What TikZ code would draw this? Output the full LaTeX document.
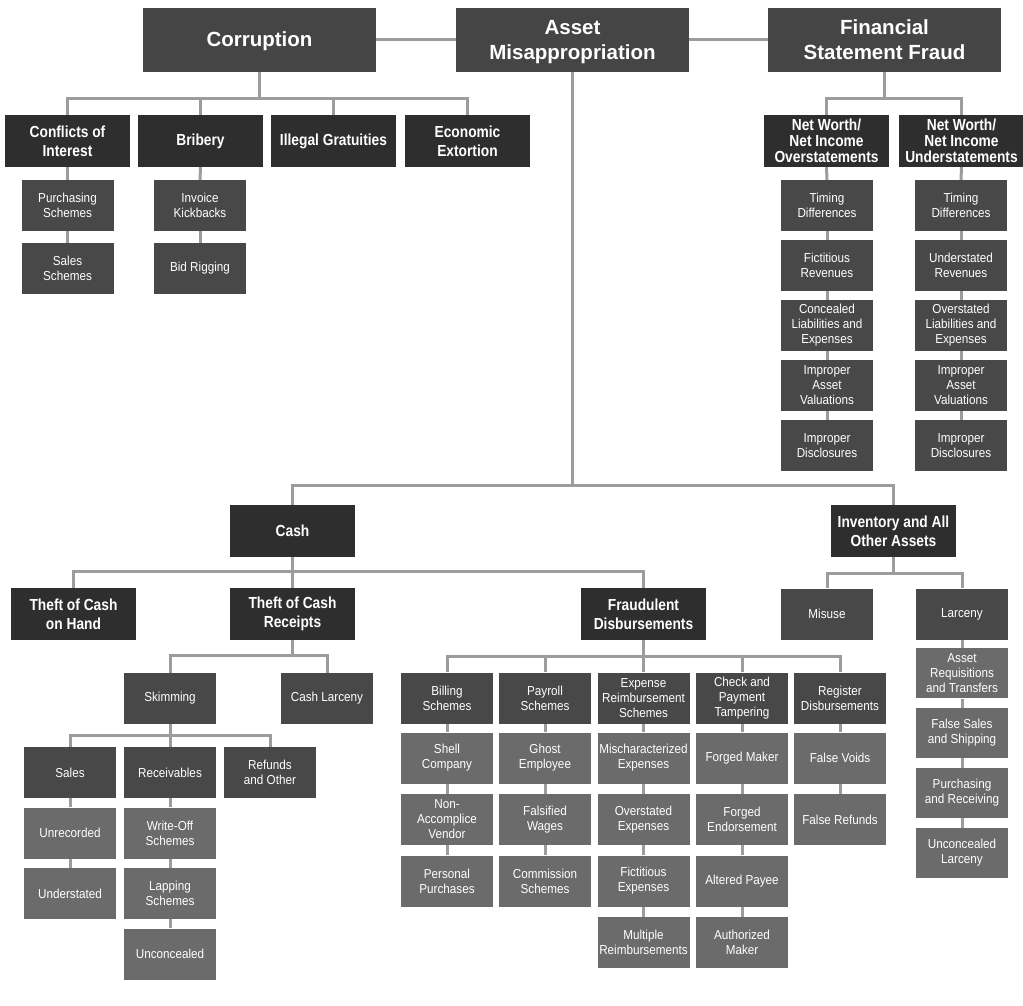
\documentclass[tikz,border=0pt]{standalone}
\usepackage{fontspec}
\setmainfont{Liberation Sans}
\newfontfamily\condfont[FakeStretch=0.86]{Liberation Sans}
\newfontfamily\leafcondfont[FakeStretch=0.9]{Liberation Sans}
\newcommand{\titlefont}{\fontsize{20.5}{25}\selectfont\bfseries}
\newcommand{\headfont}{\condfont\fontsize{16}{19}\selectfont\bfseries}
\newcommand{\headfonttight}{\condfont\fontsize{16}{16}\selectfont\bfseries}
\newcommand{\leaffont}{\leafcondfont\fontsize{13}{15}\selectfont}
\definecolor{topgray}{HTML}{454545}
\definecolor{headgray}{HTML}{2E2E2E}
\definecolor{midgray}{HTML}{484848}
\definecolor{leafgray}{HTML}{6B6B6B}
\definecolor{linegray}{HTML}{9C9C9C}
\tikzset{
  box/.style={rectangle, align=center, text=white, inner sep=0pt},
  topbox/.style={box, fill=topgray, minimum width=233, minimum height=64, font=\titlefont, text depth=0pt},
  headbox/.style={box, fill=headgray, minimum width=125, minimum height=52, font=\headfont},
  tightbox/.style={headbox, font=\headfonttight},
  midbox/.style={box, fill=midgray, minimum width=92, minimum height=51, font=\leaffont},
  leafbox/.style={box, fill=leafgray, minimum width=92, minimum height=51, font=\leaffont},
  link/.style={draw=linegray, line width=3pt}
}
\begin{document}
\begin{tikzpicture}[x=1pt,y=-1pt]
    \useasboundingbox (0,0) rectangle (1023,1005);

    % top level
    \node[topbox] (corr) at (259.5,39.5) {Corruption};
    \node[topbox] (asset) at (572.5,39.5) {Asset\\Misappropriation};
    \node[topbox] (fsf) at (884.5,39.5) {Financial\\Statement Fraud};
    \draw[link] (corr.east) -- (asset.west);
    \draw[link] (asset.east) -- (fsf.west);

    % corruption
    \node[headbox] (coi) at (67.5,141) {Conflicts of\\Interest};
    \node[headbox] (brib) at (200.5,141) {Bribery};
    \node[headbox] (grat) at (333.5,141) {Illegal Gratuities};
    \node[headbox] (extort) at (467.5,141) {Economic\\Extortion};
    \foreach \c in {coi,brib,grat,extort}
        \draw[link] (corr.south) -- ++(0,26.5) -| (\c.north);
    \node[midbox] (purch) at (67.5,205.5) {Purchasing\\Schemes};
    \node[midbox] (salesch) at (67.5,268.5) {Sales\\Schemes};
    \node[midbox] (invkick) at (200,205.5) {Invoice\\Kickbacks};
    \node[midbox] (bidrig) at (200,268.5) {Bid Rigging};
    \foreach \a/\b in {coi/purch,purch/salesch,brib/invkick,invkick/bidrig}
        \draw[link] (\a.south) -- (\b.north);

    % financial statement fraud
    \node[tightbox] (over) at (826.5,141) {Net Worth/\\Net Income\\Overstatements};
    \node[tightbox] (under) at (961.5,141) {Net Worth/\\Net Income\\Understatements};
    \foreach \c in {over,under}
        \draw[link] (fsf.south) -- ++(0,26.5) -| (\c.north);
    \foreach \t [count=\i] in {{Timing\\Differences},{Fictitious\\Revenues},{Concealed\\Liabilities and\\Expenses},{Improper\\Asset\\Valuations},{Improper\\Disclosures}}
        \node[midbox] (over\i) at (827,{145.5+60*\i}) {\t};
    \foreach \t [count=\i] in {{Timing\\Differences},{Understated\\Revenues},{Overstated\\Liabilities and\\Expenses},{Improper\\Asset\\Valuations},{Improper\\Disclosures}}
        \node[midbox] (under\i) at (961,{145.5+60*\i}) {\t};
    \foreach \a/\b in {over/over1,over1/over2,over2/over3,over3/over4,over4/over5,
                       under/under1,under1/under2,under2/under3,under3/under4,under4/under5}
        \draw[link] (\a.south) -- (\b.north);

    % asset misappropriation
    \node[headbox] (cash) at (292.5,531) {Cash};
    \node[headbox] (inv) at (893.5,531) {Inventory and All\\Other Assets};
    \foreach \c in {cash,inv}
        \draw[link] (asset.south) -- ++(0,414) -| (\c.north);

    % cash
    \node[headbox] (hand) at (73.5,614) {Theft of Cash\\on Hand};
    \node[headbox] (receipts) at (292.5,614) {Theft of Cash\\Receipts};
    \node[headbox] (fraud) at (643.5,614) {Fraudulent\\Disbursements};
    \foreach \c in {hand,receipts,fraud}
        \draw[link] (cash.south) -- ++(0,14) -| (\c.north);

    % theft of cash receipts
    \node[midbox] (skim) at (170,698.5) {Skimming};
    \node[midbox] (cashlarc) at (327,698.5) {Cash Larceny};
    \foreach \c in {skim,cashlarc}
        \draw[link] (receipts.south) -- ++(0,15) -| (\c.north);
    \node[midbox] (sales) at (70,772.5) {Sales};
    \node[midbox] (recv) at (170,772.5) {Receivables};
    \node[midbox] (refunds) at (270,772.5) {Refunds\\and Other};
    \foreach \c in {sales,recv,refunds}
        \draw[link] (skim.south) -- ++(0,11) -| (\c.north);
    \foreach \t [count=\i] in {Unrecorded,Understated}
        \node[leafbox] (sales\i) at (70,{772.5+60.5*\i}) {\t};
    \foreach \t [count=\i] in {{Write-Off\\Schemes},{Lapping\\Schemes},Unconcealed}
        \node[leafbox] (recv\i) at (170,{772.5+60.5*\i}) {\t};
    \foreach \a/\b in {sales/sales1,sales1/sales2,recv/recv1,recv1/recv2,recv2/recv3}
        \draw[link] (\a.south) -- (\b.north);

    % fraudulent disbursements
    \node[midbox] (billing) at (447,698) {Billing\\Schemes};
    \node[midbox] (payroll) at (545,698) {Payroll\\Schemes};
    \node[midbox] (expense) at (643.5,698) {Expense\\Reimbursement\\Schemes};
    \node[midbox] (check) at (742,698) {Check and\\Payment\\Tampering};
    \node[midbox] (register) at (840,698) {Register\\Disbursements};
    \foreach \c in {billing,payroll,expense,check,register}
        \draw[link] (fraud.south) -- ++(0,16) -| (\c.north);
    \foreach \t [count=\i] in {{Shell\\Company},{Non-\\Accomplice\\Vendor},{Personal\\Purchases}}
        \node[leafbox] (billing\i) at (447,{696.5+61.5*\i}) {\t};
    \foreach \t [count=\i] in {{Ghost\\Employee},{Falsified\\Wages},{Commission\\Schemes}}
        \node[leafbox] (payroll\i) at (545,{696.5+61.5*\i}) {\t};
    \foreach \t [count=\i] in {{Mischaracterized\\Expenses},{Overstated\\Expenses},{Fictitious\\Expenses},{Multiple\\Reimbursements}}
        \node[leafbox] (expense\i) at (643.5,{696.5+61.5*\i}) {\t};
    \foreach \t [count=\i] in {Forged Maker,{Forged\\Endorsement},Altered Payee,{Authorized\\Maker}}
        \node[leafbox] (check\i) at (742,{696.5+61.5*\i}) {\t};
    \foreach \t [count=\i] in {False Voids,False Refunds}
        \node[leafbox] (register\i) at (840,{696.5+61.5*\i}) {\t};
    \foreach \a/\b in {billing/billing1,billing1/billing2,billing2/billing3,
                       payroll/payroll1,payroll1/payroll2,payroll2/payroll3,
                       expense/expense1,expense1/expense2,expense2/expense3,expense3/expense4,
                       check/check1,check1/check2,check2/check3,check3/check4,
                       register/register1,register1/register2}
        \draw[link] (\a.south) -- (\b.north);

    % inventory
    \node[midbox] (misuse) at (827,614) {Misuse};
    \node[midbox] (larceny) at (962,614) {Larceny};
    \foreach \c in {misuse,larceny}
        \draw[link] (inv.south) -- ++(0,16) -| (\c.north);
    \foreach \t [count=\i] in {{Asset\\Requisitions\\and Transfers},{False Sales\\and Shipping},{Purchasing\\and Receiving},{Unconcealed\\Larceny}}
        \node[leafbox, minimum height=50] (larceny\i) at (962,{613.5+59.8*\i}) {\t};
    \foreach \a/\b in {larceny/larceny1,larceny1/larceny2,larceny2/larceny3,larceny3/larceny4}
        \draw[link] (\a.south) -- (\b.north);
\end{tikzpicture}
\end{document}
